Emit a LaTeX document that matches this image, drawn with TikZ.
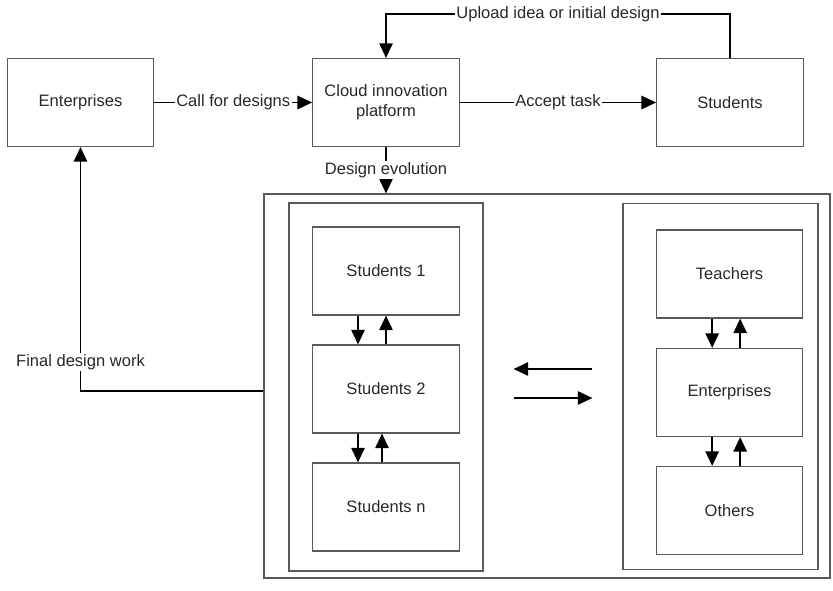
\documentclass[tikz,border=0pt]{standalone}
\usepackage{fontspec}
\setmainfont{Liberation Sans}
\usepackage{xcolor}
\usetikzlibrary{arrows.meta,positioning,calc}
\definecolor{boxgray}{RGB}{90,90,90}
\definecolor{textgray}{RGB}{40,40,40}
\tikzset{
  box/.style={draw=boxgray,line width=0.8pt,minimum width=110pt,minimum height=66pt,
    align=center,text=textgray,font=\fontsize{12.4}{15}\selectfont},
  frame/.style={draw=boxgray,line width=0.8pt,inner sep=0pt},
  arr/.style={-{Triangle[length=11pt,width=10pt]},line width=1.4pt},
  lbl/.style={fill=white,inner sep=1pt,text=textgray,font=\fontsize{12.4}{15}\selectfont}
}

\begin{document}
\begin{tikzpicture}[x=0.75pt,y=-0.75pt]
  \useasboundingbox (0,0) rectangle (833,590);
  % Top row
  \node[box] (ent) at (80.5,102.5) {Enterprises};
  \node[box] (cloud) at (386,102.5) {Cloud innovation\\platform};
  \node[box] (stu) at (730,102.5) {Students};
  % Design pool and its two groups
  \node[frame,minimum width=424.5pt,minimum height=288pt] (pool) at (547,386) {};
  \node[frame,minimum width=145.5pt,minimum height=276pt] (sgroup) at (386,387) {};
  \node[frame,minimum width=146.25pt,minimum height=275pt] (ogroup) at (720.5,386.5) {};
  \foreach \n/\t/\x/\y in {s1/Students 1/386/271,s2/Students 2/386/389,sn/Students n/386/507,
      teach/Teachers/729.5/274,ent2/Enterprises/729.5/392.5,others/Others/729.5/510.5}{
    \node[box] (\n) at (\x,\y) {\t};
  }
  % Flow along the top
  \draw[arr] (ent) -- node[lbl]{Call for designs} (cloud);
  \draw[arr] (cloud) -- node[lbl]{Accept task} (stu);
  \draw[arr] (stu.north) -- ++(0,-44) -| node[pos=0.25,lbl]{Upload idea or initial design} (cloud.north);
  \draw[arr] (cloud.south) -- node[lbl]{Design evolution} (cloud.south |- pool.north);
  \draw[arr] ([yshift=-3.75pt]pool.west) -| node[pos=0.56,lbl]{Final design work} (ent.south);
  % Exchange inside the groups (down and up)
  \foreach \a/\b/\dn/\up in {s1/s2/-21/0,s2/sn/-21/-3,teach/ent2/-13/8,ent2/others/-13/8}{
    \draw[arr] ([xshift=\dn pt]\a.south) -- ([xshift=\dn pt]\b.north);
    \draw[arr] ([xshift=\up pt]\b.north) -- ([xshift=\up pt]\a.south);
  }
  % Exchange between the groups
  \draw[arr] ($(ogroup.west)+(-30,-17.5)$) -- ($(sgroup.east)+(30,-18)$);
  \draw[arr] ($(sgroup.east)+(30,11)$) -- ($(ogroup.west)+(-30,11.5)$);
\end{tikzpicture}
\end{document}
